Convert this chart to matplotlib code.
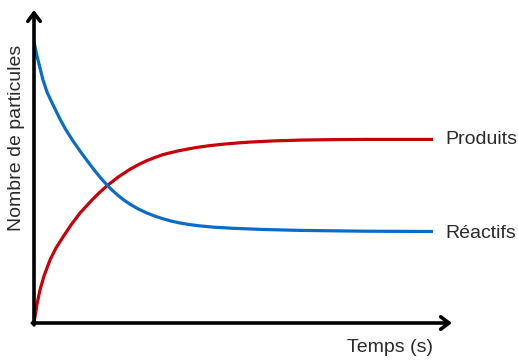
import matplotlib.pyplot as plt

# values (time in px-like units, count in px-like units)
t_produits = [0, 3, 6, 10, 16, 22, 29, 37, 46, 58, 65, 73, 84, 96, 104, 112, 120, 129, 137,
              145, 154, 163, 176, 190, 203, 216, 240, 266, 300, 333, 399]
produits = [0, 19, 33, 47, 63, 75, 86, 98, 110, 123, 130, 137.2, 145.8, 153.7, 158.1, 162,
            165.2, 168.4, 170.4, 172.3, 174, 175.6, 177.4, 178.9, 180, 180.9, 182.1, 182.9,
            183.4, 183.6, 183.6]

t_reactifs = [0, 3, 6, 9, 11, 13, 16, 18, 23, 27, 32, 39, 46, 53, 61, 67, 73, 78, 84, 90, 96,
              104, 112, 120, 129, 137, 146, 155, 166, 180, 199, 230, 266, 330, 399]
reactifs = [281, 267, 255, 243, 237, 231, 224.5, 220.3, 210, 202, 193, 182, 172, 162.5, 152,
            144.7, 138, 133, 127.6, 122.9, 118.8, 114.2, 110.4, 107.2, 104.2, 102, 100, 98.5,
            97.1, 95.8, 94.7, 93.5, 92.6, 91.8, 91.5]

labels = ["Produits", "Réactifs"]
axis_labels = ["Temps (s)", "Nombre de particules"]

W, H = 518, 360
fig = plt.figure(figsize=(W / 100, H / 100), dpi=100)
plt.rcParams['font.family'] = ['Liberation Sans', 'DejaVu Sans']

# axes placed so the origin sits at pixel (34, 323)
x0, y0 = 34, 323
x_end, y_top = 452, 10
ax = fig.add_axes([x0 / W, (H - y0) / H, (x_end - x0) / W, (y0 - y_top) / H])
ax.set_xlim(0, x_end - x0)
ax.set_ylim(0, y0 - y_top)
for s in ax.spines.values():
    s.set_visible(False)
ax.set_xticks([])
ax.set_yticks([])
ax.patch.set_alpha(0)

red = '#C8000A'
blue = '#0A6CC8'
ax.plot(t_produits, produits, color=red, lw=2.3, solid_capstyle='butt',
        solid_joinstyle='round', clip_on=False)
ax.plot(t_reactifs, reactifs, color=blue, lw=2.3, solid_capstyle='butt',
        solid_joinstyle='round', clip_on=False)

# axis arrows
arrow = dict(arrowstyle='->,head_length=0.6,head_width=0.45', color='black', lw=2.6,
             shrinkA=0, shrinkB=0)
ax.annotate('', xy=(1, 0), xytext=(-0.004, 0), xycoords='axes fraction', arrowprops=arrow,
            annotation_clip=False)
ax.annotate('', xy=(0, 1), xytext=(0, -0.006), xycoords='axes fraction', arrowprops=arrow,
            annotation_clip=False)

txt = '#2a2a2a'
fs = 14
fig.text(445 / W, 1 - 139 / H, labels[0], fontsize=fs, color=txt, ha='left', va='center')
fig.text(445 / W, 1 - 233 / H, labels[1], fontsize=fs, color=txt, ha='left', va='center')
fig.text(390 / W, 1 - 348 / H, axis_labels[0], fontsize=fs, color=txt, ha='center', va='center')
fig.text(17 / W, 1 - 138 / H, axis_labels[1], fontsize=fs, color=txt, ha='center', va='center',
         rotation=90)

fig.savefig('out.png', dpi=100)
